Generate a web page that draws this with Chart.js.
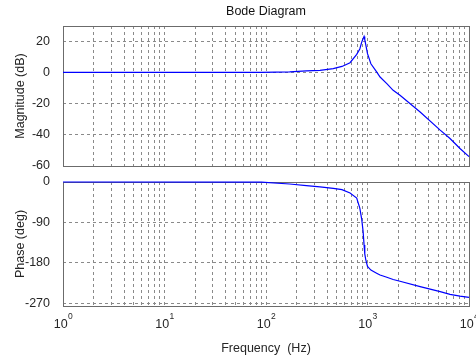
<!DOCTYPE html>
<html>
<head>
<meta charset="utf-8">
<title>Bode Diagram</title>
<script src="https://cdn.jsdelivr.net/npm/chart.js@4.4.1/dist/chart.umd.min.js"></script>
<style>
  html, body { margin: 0; padding: 0; background: #fff; overflow: hidden; }
  #wrap { position: relative; width: 476px; height: 356px; }
  canvas { position: absolute; left: 0; }
  #magCanvas { top: 0; }
  #phaseCanvas { top: 170px; }
</style>
</head>
<body>
<div id="wrap">
  <canvas id="magCanvas" width="476" height="170"></canvas>
  <canvas id="phaseCanvas" width="476" height="186"></canvas>
</div>
<script>
// frequency response samples
const freqHz = [1, 90, 171, 250, 340, 460, 560, 673, 783, 840, 877, 905, 925, 940, 960, 1000, 1080, 1230, 1330, 1550, 1790, 2090, 3300, 5200, 6500, 8150, 10000];
const magDb  = [0, 0, 0.3, 0.9, 1.3, 2.4, 3.8, 6.2, 11.5, 15, 19.4, 21.5, 23, 21, 18, 12, 5.5, 0.3, -3, -7.2, -11.5, -14.7, -25.4, -37, -42.4, -48.8, -54];
const phaseDeg = [0, -0.5, -4.4, -8, -11, -14, -17, -24.5, -35.6, -58, -83, -110, -140, -160, -172, -188, -196, -203, -207, -212, -217, -221, -233, -244, -250, -254, -257];

const magTicks = [-60, -40, -20, 0, 20];
const phaseTicks = [-270, -180, -90, 0];
const decades = [1, 10, 100, 1000, 10000];

const FONT = "'Liberation Sans', Arial, Helvetica, sans-serif";
const gridColor = '#8a8a8a';
const textColor = '#262626';

Chart.defaults.font.family = FONT;
Chart.defaults.font.size = 12.5;
Chart.defaults.color = textColor;

// 1..9 per decade for the log grid
const freqTicks = [];
decades.slice(0, 4).forEach(d => { for (let m = 1; m <= 9; m++) freqTicks.push(m * d); });
freqTicks.push(10000);

// grey box round the plot area, drawn under the curve
const frame = {
  id: 'frame',
  beforeDatasetsDraw(chart) {
    const { ctx, chartArea: a } = chart;
    ctx.save();
    ctx.strokeStyle = '#6b6b6b';
    ctx.lineWidth = 1;
    ctx.strokeRect(Math.round(a.left) + 0.5, Math.round(a.top) + 0.5, Math.round(a.right - a.left), Math.round(a.bottom - a.top));
    ctx.restore();
  }
};

// 10^n labels with a raised exponent
const decadeLabels = {
  id: 'decadeLabels',
  afterDraw(chart) {
    const x = chart.scales.x;
    const ctx = chart.ctx;
    ctx.save();
    ctx.fillStyle = textColor;
    ctx.textBaseline = 'alphabetic';
    ctx.textAlign = 'left';
    decades.forEach((v, i) => {
      const px = x.getPixelForValue(v);
      ctx.font = '12.5px ' + FONT;
      const wBase = ctx.measureText('10').width;
      ctx.font = '8.5px ' + FONT;
      const wExp = ctx.measureText(String(i)).width;
      const x0 = px - (wBase + wExp) / 2;
      ctx.font = '12.5px ' + FONT;
      ctx.fillText('10', x0, x.top + 22);
      ctx.font = '8.5px ' + FONT;
      ctx.fillText(String(i), x0 + wBase + 0.5, x.top + 13);
    });
    ctx.restore();
  }
};

// keep the plot box where the layout padding puts it
function noLabelPadding(s) {
  s.paddingTop = 0;
  s.paddingBottom = 0;
  s.paddingLeft = 0;
  s.paddingRight = 0;
}

function freqAxis(height, titleText) {
  return {
    type: 'logarithmic',
    min: 1,
    max: 10000,
    afterBuildTicks: s => { s.ticks = freqTicks.map(v => ({ value: v })); },
    ticks: { display: false },
    grid: { color: gridColor, drawTicks: false, lineWidth: 1 },
    border: { display: false, dash: [3, 3] },
    title: titleText ? { display: true, text: titleText, color: textColor, font: { size: 12.5 }, padding: { top: 0, bottom: 0 } } : { display: false },
    afterFit: s => { s.height = height; noLabelPadding(s); }
  };
}

function valueAxis(min, max, ticks, titleText) {
  return {
    min: min,
    max: max,
    afterBuildTicks: s => { s.ticks = ticks.map(v => ({ value: v })); },
    ticks: { color: textColor, padding: 13, font: { size: 12.5 } },
    grid: { color: gridColor, drawTicks: false, lineWidth: 1 },
    border: { display: false, dash: [3, 3] },
    title: { display: true, text: titleText, color: textColor, font: { size: 12.5 }, padding: { top: 13, bottom: 0 } },
    afterFit: s => { s.width = 63; noLabelPadding(s); }
  };
}

function curve(values) {
  return {
    data: freqHz.map((f, i) => ({ x: f, y: values[i] })),
    borderColor: '#0000ff',
    borderWidth: 1.2,
    pointRadius: 0,
    tension: 0,
    fill: false,
    clip: 3
  };
}

new Chart(document.getElementById('magCanvas'), {
  type: 'line',
  data: { datasets: [curve(magDb)] },
  options: {
    responsive: false,
    animation: false,
    layout: { padding: { top: 0, bottom: 4, left: 0, right: 7 } },
    plugins: {
      legend: { display: false },
      tooltip: { enabled: false },
      title: {
        display: true,
        text: 'Bode Diagram',
        fullSize: false,
        color: '#111',
        font: { size: 12.5, weight: 'normal' },
        padding: { top: 4, bottom: 7 }
      }
    },
    scales: {
      x: freqAxis(0, null),
      y: valueAxis(-60, 29.7, magTicks, 'Magnitude (dB)')
    }
  },
  plugins: [frame]
});

new Chart(document.getElementById('phaseCanvas'), {
  type: 'line',
  data: { datasets: [curve(phaseDeg)] },
  options: {
    responsive: false,
    animation: false,
    layout: { padding: { top: 12, bottom: 0, left: 0, right: 7 } },
    plugins: {
      legend: { display: false },
      tooltip: { enabled: false }
    },
    scales: {
      x: freqAxis(50, 'Frequency  (Hz)'),
      y: valueAxis(-276, 0, phaseTicks, 'Phase (deg)')
    }
  },
  plugins: [frame, decadeLabels]
});
</script>
</body>
</html>
